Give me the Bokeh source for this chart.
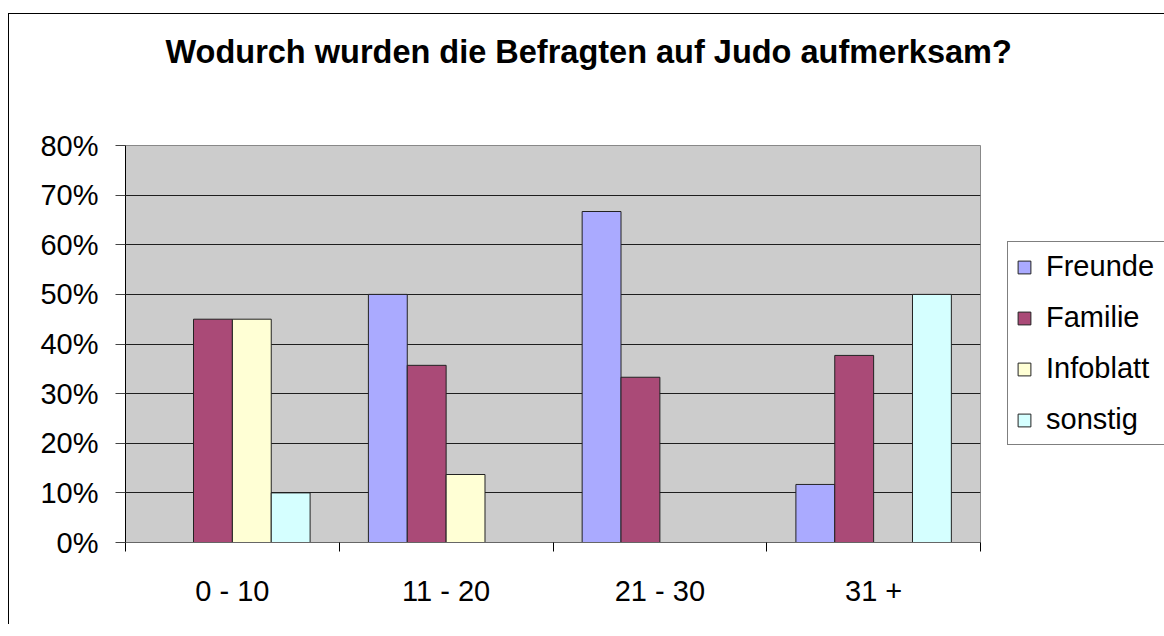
from bokeh.plotting import figure
from bokeh.models import Range1d, FixedTicker, PrintfTickFormatter, Legend, LegendItem, Title, ColumnDataSource
from bokeh.embed import file_html
from bokeh.resources import INLINE

# ---- data ----
categories = ["0 - 10", "11 - 20", "21 - 30", "31 +"]
series = ["Freunde", "Familie", "Infoblatt", "sonstig"]
freunde = [0, 50.0, 66.7, 11.7]
familie = [45.0, 35.7, 33.3, 37.7]
infoblatt = [45.0, 13.7, 0, 0]
sonstig = [10.0, 0, 0, 50.0]
y_ticks = [0, 10, 20, 30, 40, 50, 60, 70, 80]
title_text = "Wodurch wurden die Befragten auf Judo aufmerksam?"

values = [freunde, familie, infoblatt, sonstig]
colors = ["#AAAAFF", "#AA4A77", "#FFFFD5", "#D5FFFF"]
FONT = "Liberation Sans"

p = figure(frame_width=855, frame_height=397, output_backend="svg", toolbar_location=None,
           x_range=Range1d(0, len(categories)), y_range=Range1d(0, 80),
           min_border_left=116, min_border_top=131, min_border_right=184, min_border_bottom=82)
p.title = None
p.background_fill_color = "#CCCCCC"
p.border_fill_color = "white"
p.outline_line_color = "#888888"
p.styles = {"margin-top": "13px", "margin-left": "8px",
            "border-top": "1px solid black", "border-left": "1px solid black"}

# spacer between plot area and title (closest to the frame), then the title
p.add_layout(Title(text=" ", text_font=FONT, text_font_size="1px", standoff=53), "above")
p.add_layout(Title(text=title_text, align="left", offset=40, text_font=FONT,
                   text_font_size="32.5px", text_font_style="bold", text_color="black",
                   vertical_align="top", standoff=36), "above")

bw = 1.0 / 5.5
renderers = []
for i, (name, vals, col) in enumerate(zip(series, values, colors)):
    xs, tops = [], []
    for j, v in enumerate(vals):
        if v > 0:
            xs.append(j + 0.5 + (i - 1.5) * bw)
            tops.append(v)
    src = ColumnDataSource(dict(x=xs, top=tops))
    r = p.vbar(x="x", top="top", bottom=0, width=bw, source=src,
               fill_color=col, line_color="#222222", line_width=1)
    renderers.append(r)

# grid
p.xgrid.visible = False
p.ygrid.ticker = FixedTicker(ticks=y_ticks)
p.ygrid.grid_line_color = "#1e1e1e"
p.ygrid.grid_line_width = 1

# y axis
ya = p.yaxis[0]
ya.ticker = FixedTicker(ticks=y_ticks)
ya.formatter = PrintfTickFormatter(format="%d%%")
ya.axis_line_color = "black"
ya.major_tick_line_color = "#444444"
ya.major_tick_out = 10
ya.major_tick_in = 0
ya.minor_tick_line_color = None
ya.major_label_text_font = FONT
ya.major_label_text_font_size = "29px"
ya.major_label_text_color = "black"
ya.major_label_standoff = 17

# x axis
xa = p.xaxis[0]
xa.ticker = FixedTicker(ticks=[j + 0.5 for j in range(len(categories))],
                        minor_ticks=list(range(len(categories) + 1)))
xa.major_label_overrides = {j + 0.5: c for j, c in enumerate(categories)}
xa.axis_line_color = "#666666"
xa.major_tick_line_color = None
xa.minor_tick_line_color = "black"
xa.minor_tick_out = 9
xa.minor_tick_in = 0
xa.major_label_text_font = FONT
xa.major_label_text_font_size = "29px"
xa.major_label_text_color = "black"
xa.major_label_standoff = 23

legend = Legend(items=[LegendItem(label=s, renderers=[r]) for s, r in zip(series, renderers)],
                location=(27, 97), border_line_color="black", border_line_width=1,
                background_fill_color="white", background_fill_alpha=1,
                glyph_width=16, glyph_height=16, label_standoff=14,
                label_text_font=FONT, label_text_font_size="29px", label_text_color="black",
                label_height=30, label_width=110, spacing=18, padding=8, margin=0)
p.add_layout(legend, "right")

open("out.html", "w").write(file_html(p, INLINE))
